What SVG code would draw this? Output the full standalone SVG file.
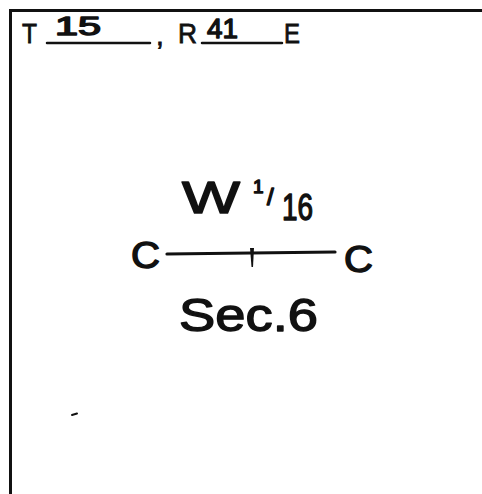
<svg xmlns="http://www.w3.org/2000/svg" width="482" height="494" viewBox="0 0 482 494">
  <style>
    .ink { fill: #111; font-family: "Liberation Sans", "DejaVu Sans", sans-serif; }
    .print { font-size: 28px; stroke: #111; stroke-width: 0.8px; }
    .hand { stroke: #111; stroke-width: 1.4px; stroke-linejoin: round; }
    .stroke { stroke: #111; stroke-linecap: round; fill: none; }
  </style>
  <rect width="482" height="494" fill="#fff"/>
  <g id="frame">
    <path class="stroke" d="M10.5,494 V10.5 H482" stroke-width="3" stroke-linecap="butt"/>
  </g>
  <g id="header">
    <text class="ink print" x="22" y="43" textLength="15" lengthAdjust="spacingAndGlyphs">T</text>
    <line class="stroke" x1="47" y1="43" x2="150" y2="43" stroke-width="2.5" stroke-linecap="butt"/>
    <text class="ink hand" x="55" y="35" font-size="25" textLength="46" lengthAdjust="spacingAndGlyphs">15</text>
    <text class="ink print" x="156" y="45" font-size="26">,</text>
    <text class="ink print" x="178" y="43" textLength="19" lengthAdjust="spacingAndGlyphs">R</text>
    <line class="stroke" x1="202" y1="43" x2="282" y2="43" stroke-width="2.5" stroke-linecap="butt"/>
    <text class="ink hand" x="207" y="38" font-size="28" textLength="31" lengthAdjust="spacingAndGlyphs">41</text>
    <text class="ink print" x="284" y="43" textLength="16" lengthAdjust="spacingAndGlyphs">E</text>
  </g>
  <g id="label-top">
    <text class="ink hand" x="182" y="213" font-size="44" textLength="58" lengthAdjust="spacingAndGlyphs">W</text>
    <text class="ink hand"><tspan x="253" y="193" font-size="19">1</tspan><tspan x="267" y="205" font-size="24">/</tspan><tspan x="282" y="220" font-size="36" textLength="31" lengthAdjust="spacingAndGlyphs">16</tspan></text>
  </g>
  <g id="node-left">
    <text class="ink hand" x="131" y="268" font-size="36" textLength="29" lengthAdjust="spacingAndGlyphs">C</text>
  </g>
  <g id="node-right">
    <text class="ink hand" x="344" y="272" font-size="36" textLength="29" lengthAdjust="spacingAndGlyphs">C</text>
  </g>
  <g id="connectors">
    <line class="stroke" x1="167" y1="254" x2="335" y2="252" stroke-width="3.2"/>
    <path d="M250,248 L254,248 L253,267 L251.5,267 Z" fill="#111"/>
  </g>
  <g id="label-bottom">
    <text class="ink hand" x="179" y="331" font-size="47" textLength="139" lengthAdjust="spacingAndGlyphs">Sec.6</text>
  </g>
  <g id="mark">
    <line class="stroke" x1="72" y1="415" x2="77" y2="413.5" stroke-width="2"/>
  </g>
</svg>
